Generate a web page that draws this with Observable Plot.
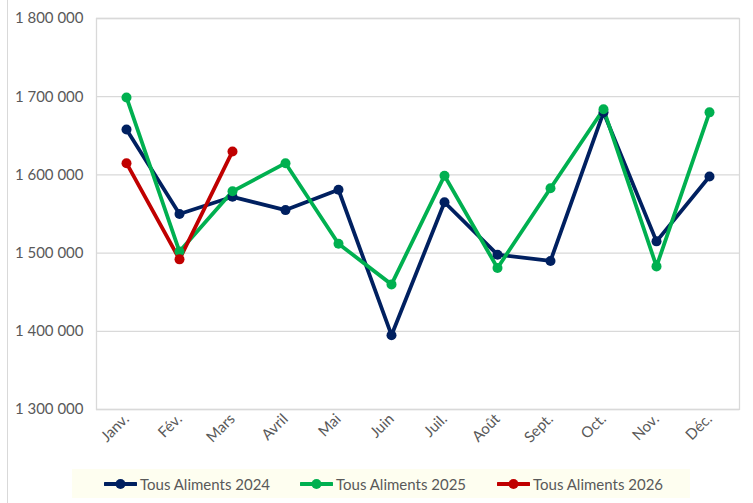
<!DOCTYPE html>
<html>
<head>
<meta charset="utf-8">
<script src="https://cdn.jsdelivr.net/npm/d3@7"></script>
<script src="https://cdn.jsdelivr.net/npm/@observablehq/plot@0.6"></script>
<style>
  html, body { margin: 0; padding: 0; background: #fff; }
  body { width: 753px; height: 503px; position: relative; overflow: hidden; font-family: Lato, "Open Sans", sans-serif; }
  #edge { position: absolute; left: 7px; top: 0; width: 1px; height: 503px; background: #d9d9d9; }
  #chart { position: absolute; left: 0; top: 0; }
  #legend { position: absolute; left: 72px; top: 469px; width: 618px; height: 29px; background: #fefef0;
            font-size: 15px; color: #595959; }
  .item { display: flex; align-items: center; position: absolute; top: 6px; }
  .item svg { margin-right: 3px; }
</style>
</head>
<body>
<div id="edge"></div>
<div id="chart"></div>
<div id="legend"></div>
<script>
const months = ["Janv.", "Fév.", "Mars", "Avril", "Mai", "Juin", "Juil.", "Août", "Sept.", "Oct.", "Nov.", "Déc."];
const series = ["Tous Aliments 2024", "Tous Aliments 2025", "Tous Aliments 2026"];
const colors = ["#002060", "#00b050", "#c00000"];
const values2024 = [1658000, 1550000, 1572000, 1555000, 1581000, 1395000, 1565000, 1498000, 1490000, 1680000, 1515000, 1598000];
const values2025 = [1699000, 1502000, 1579000, 1615000, 1512000, 1460000, 1599000, 1481000, 1583000, 1684000, 1483000, 1680000];
const values2026 = [1615000, 1492000, 1630000];
const yTicks = [1300000, 1400000, 1500000, 1600000, 1700000, 1800000];

const allValues = [values2024, values2025, values2026];
const data = [];
allValues.forEach((vals, i) => vals.forEach((v, j) => data.push({series: series[i], month: months[j], value: v})));

const fmt = d => d3.format(",")(d).replace(/,/g, " ");

const plot = Plot.plot({
  width: 753,
  height: 462,
  marginTop: 18,
  marginLeft: 96,
  marginRight: 14,
  marginBottom: 53,
  style: { fontFamily: "Lato, 'Open Sans', sans-serif", color: "#595959", background: "transparent" },
  x: { type: "band", domain: months, label: null },
  y: { domain: [1300000, 1800000], label: null },
  color: { domain: series, range: colors },
  marks: [
    Plot.gridY(yTicks, { stroke: "#d9d9d9", strokeOpacity: 1, strokeWidth: 1.3 }),
    Plot.frame({ stroke: "#d9d9d9", strokeWidth: 1.3 }),
    Plot.axisY(yTicks, { tickFormat: fmt, tickSize: 0, tickPadding: 13, fontSize: 15, fill: "#595959", label: null }),
    Plot.axisX({ tickSize: 0, tickRotate: -45, tickPadding: 7, fontSize: 15, fill: "#595959", label: null }),
    Plot.line(data, { x: "month", y: "value", z: "series", stroke: "series", strokeWidth: 3.8, strokeLinejoin: "round" }),
    Plot.dot(data, { x: "month", y: "value", fill: "series", r: 5 })
  ]
});
document.getElementById("chart").appendChild(plot);

// Legend
const legend = document.getElementById("legend");
const lefts = [32, 228, 425];
series.forEach((s, i) => {
  const item = document.createElement("div");
  item.className = "item";
  item.style.left = lefts[i] + "px";
  item.innerHTML = `<svg width="33" height="14"><line x1="1" y1="7" x2="32" y2="7" stroke="${colors[i]}" stroke-width="3.8" stroke-linecap="round"/><circle cx="16.5" cy="7" r="5" fill="${colors[i]}"/></svg><span>${s}</span>`;
  legend.appendChild(item);
});
</script>
</body>
</html>
